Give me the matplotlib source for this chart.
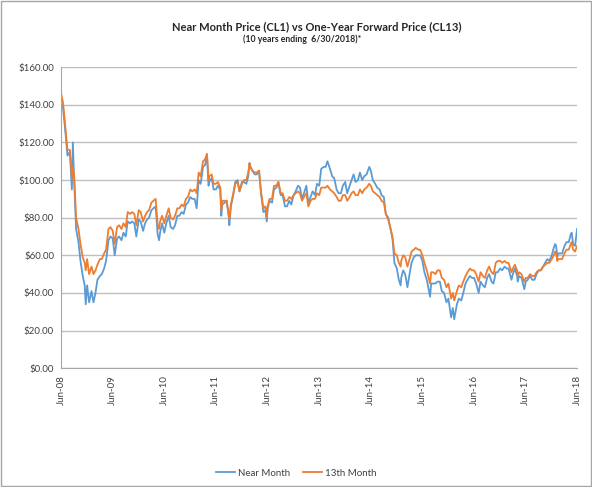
import numpy as np
import pandas as pd
import matplotlib
matplotlib.use("Agg")
import matplotlib.pyplot as plt
import matplotlib.dates as mdates
from matplotlib.ticker import FuncFormatter, MultipleLocator
from matplotlib.patches import Rectangle

plt.rcParams['font.family'] = ['Lato', 'DejaVu Sans']

# roughly semi-monthly readings (USD / bbl)
dates = [
    "2008-07-01", "2008-07-15", "2008-08-01", "2008-08-15", "2008-09-01", "2008-09-15", "2008-09-22",
    "2008-10-01", "2008-10-15", "2008-11-01", "2008-11-15", "2008-12-01", "2008-12-15", "2008-12-22",
    "2009-01-01", "2009-01-15", "2009-02-01", "2009-02-15", "2009-03-01", "2009-03-15", "2009-04-01",
    "2009-04-15", "2009-05-01", "2009-05-15", "2009-06-01", "2009-06-15", "2009-07-01", "2009-07-15",
    "2009-08-01", "2009-08-15", "2009-09-01", "2009-09-15", "2009-10-01", "2009-10-15", "2009-11-01",
    "2009-11-15", "2009-12-01", "2009-12-15", "2010-01-01", "2010-01-15", "2010-02-01", "2010-02-15",
    "2010-03-01", "2010-03-15", "2010-04-01", "2010-04-15", "2010-05-01", "2010-05-15", "2010-05-25",
    "2010-06-01", "2010-06-15", "2010-07-01", "2010-07-15", "2010-08-01", "2010-08-15", "2010-09-01",
    "2010-09-15", "2010-10-01", "2010-10-15", "2010-11-01", "2010-11-15", "2010-12-01", "2010-12-15",
    "2011-01-01", "2011-01-15", "2011-02-01", "2011-02-15", "2011-03-01", "2011-03-15", "2011-04-01",
    "2011-04-15", "2011-04-29", "2011-05-10", "2011-05-15", "2011-06-01", "2011-06-15", "2011-07-01",
    "2011-07-15", "2011-08-01", "2011-08-08", "2011-08-15", "2011-09-01", "2011-09-15", "2011-10-01",
    "2011-10-04", "2011-10-15", "2011-11-01", "2011-11-15", "2011-12-01", "2011-12-15", "2012-01-01",
    "2012-01-15", "2012-02-01", "2012-02-15", "2012-02-24", "2012-03-01", "2012-03-15", "2012-04-01",
    "2012-04-15", "2012-05-01", "2012-05-15", "2012-06-01", "2012-06-15", "2012-06-25", "2012-07-01",
    "2012-07-15", "2012-08-01", "2012-08-15", "2012-09-01", "2012-09-15", "2012-10-01", "2012-10-15",
    "2012-11-01", "2012-11-15", "2012-12-01", "2012-12-15", "2013-01-01", "2013-01-15", "2013-02-01",
    "2013-02-15", "2013-03-01", "2013-03-15", "2013-04-01", "2013-04-15", "2013-05-01", "2013-05-15",
    "2013-06-01", "2013-06-15", "2013-07-01", "2013-07-15", "2013-08-01", "2013-08-15", "2013-08-28",
    "2013-09-15", "2013-10-01", "2013-10-15", "2013-11-01", "2013-11-15", "2013-12-01", "2013-12-15",
    "2014-01-01", "2014-01-15", "2014-02-01", "2014-02-15", "2014-03-01", "2014-03-15", "2014-04-01",
    "2014-04-15", "2014-05-01", "2014-05-15", "2014-06-01", "2014-06-20", "2014-07-01", "2014-07-15",
    "2014-08-01", "2014-08-15", "2014-09-01", "2014-09-15", "2014-10-01", "2014-10-15", "2014-11-01",
    "2014-11-15", "2014-12-01", "2014-12-15", "2015-01-01", "2015-01-15", "2015-01-28", "2015-02-01",
    "2015-02-15", "2015-03-01", "2015-03-17", "2015-04-01", "2015-04-15", "2015-05-01", "2015-05-15",
    "2015-06-01", "2015-06-15", "2015-07-01", "2015-07-15", "2015-08-01", "2015-08-24", "2015-09-01",
    "2015-09-15", "2015-10-01", "2015-10-15", "2015-11-01", "2015-11-15", "2015-12-01", "2015-12-18",
    "2016-01-01", "2016-01-20", "2016-02-01", "2016-02-11", "2016-03-01", "2016-03-15", "2016-04-01",
    "2016-04-15", "2016-05-01", "2016-05-15", "2016-06-01", "2016-06-15", "2016-07-01", "2016-07-15",
    "2016-08-02", "2016-08-15", "2016-09-01", "2016-09-15", "2016-10-01", "2016-10-15", "2016-11-01",
    "2016-11-15", "2016-12-01", "2016-12-15", "2017-01-01", "2017-01-15", "2017-02-01", "2017-02-15",
    "2017-03-01", "2017-03-22", "2017-04-01", "2017-04-15", "2017-05-01", "2017-05-05", "2017-05-15",
    "2017-06-01", "2017-06-21", "2017-07-01", "2017-07-15", "2017-08-01", "2017-08-15", "2017-09-01",
    "2017-09-15", "2017-10-01", "2017-10-15", "2017-11-01", "2017-11-15", "2017-12-01", "2017-12-15",
    "2018-01-01", "2018-01-15", "2018-01-25", "2018-02-01", "2018-02-09", "2018-02-15", "2018-03-01",
    "2018-03-15", "2018-04-01", "2018-04-15", "2018-05-01", "2018-05-15", "2018-05-22", "2018-06-01",
    "2018-06-15", "2018-06-29",
]

near_month = [
    141, 138, 125, 113, 115, 95, 120,
    100, 74, 67, 57, 49, 44, 34,
    44, 35, 41, 35, 40, 47, 49,
    50, 53, 57, 68, 70, 69, 60,
    69, 70, 68, 72, 70, 78, 77,
    78, 77, 70, 79, 78, 73, 77,
    79, 80, 84, 85, 86, 71, 68,
    72, 77, 72, 77, 81, 75, 74,
    76, 81, 81, 83, 82, 87, 88,
    91, 90, 90, 85, 100, 98, 107,
    108, 113, 97, 99, 101, 95, 95,
    97, 95, 81, 87, 88, 89, 80,
    76, 86, 92, 99, 100, 94, 99,
    99, 98, 102, 109, 107, 105, 103,
    103, 105, 93, 83, 84, 78, 85,
    89, 88, 95, 96, 99, 92, 92,
    86, 86, 89, 87, 92, 94, 97,
    96, 90, 93, 97, 88, 91, 94,
    92, 98, 97, 106, 107, 107, 110,
    106, 102, 101, 95, 93, 93, 97,
    99, 93, 97, 100, 103, 99, 100,
    104, 100, 102, 103, 107, 105, 100,
    98, 96, 95, 92, 91, 82, 80,
    75, 69, 56, 53, 47, 44, 48,
    52, 50, 43, 50, 56, 59, 60,
    60, 60, 57, 51, 47, 38, 45,
    45, 45, 46, 46, 41, 40, 35,
    37, 27, 32, 26, 34, 37, 36,
    40, 45, 47, 49, 48, 48, 45,
    40, 46, 44, 43, 48, 50, 46,
    45, 51, 51, 53, 52, 54, 53,
    53, 47, 50, 53, 49, 46, 49,
    48, 42, 46, 47, 49, 47, 47,
    50, 52, 52, 54, 56, 58, 57,
    60, 64, 66, 65, 59, 61, 61,
    61, 65, 67, 67, 71, 72, 66,
    65, 74,
]

month_13 = [
    146, 141, 127, 116, 116, 101, 107,
    103, 80, 74, 66, 59, 56, 52,
    58, 50, 54, 50, 52, 55, 58,
    58, 61, 63, 74, 75, 73, 66,
    75, 76, 74, 77, 75, 83, 82,
    83, 82, 76, 84, 83, 78, 81,
    83, 84, 88, 89, 90, 76, 74,
    78, 81, 77, 81, 85, 80, 79,
    81, 85, 85, 87, 86, 90, 91,
    95, 94, 95, 93, 104, 102, 110,
    111, 114, 100, 102, 103, 98, 98,
    99, 96, 84, 89, 89, 89, 81,
    79, 87, 93, 98, 99, 94, 98,
    100, 100, 104, 109, 107, 105, 104,
    104, 105, 94, 85, 86, 80, 86,
    90, 90, 97, 97, 99, 93, 93,
    89, 89, 91, 90, 92, 93, 94,
    93, 89, 91, 93, 86, 89, 90,
    90, 93, 92, 96, 96, 96, 97,
    95, 94, 93, 91, 89, 89, 92,
    92, 89, 91, 93, 94, 92, 92,
    95, 93, 95, 96, 98, 97, 94,
    93, 92, 91, 89, 88, 82, 79,
    75, 70, 61, 60, 56, 54, 57,
    60, 59, 54, 58, 62, 63, 64,
    63, 63, 60, 56, 52, 45, 51,
    51, 50, 52, 52, 48, 47, 43,
    45, 37, 40, 36, 41, 44, 43,
    46, 49, 51, 53, 52, 52, 50,
    46, 51, 49, 48, 52, 54, 51,
    50, 56, 57, 57, 56, 57, 56,
    56, 51, 53, 55, 52, 49, 51,
    50, 46, 48, 48, 50, 49, 49,
    51, 52, 52, 54, 55, 56, 56,
    58, 60, 62, 61, 57, 58, 58,
    58, 61, 63, 63, 66, 67, 63,
    62, 65,
]

tick_years = list(range(2008, 2019))

x = pd.to_datetime(dates)

fig = plt.figure(figsize=(5.92, 4.87), dpi=100)
ax = fig.add_axes([0.103, 0.244, 0.872, 0.618])

ax.plot(x, near_month, color="#5B9BD5", lw=1.3, label="Near Month")
ax.plot(x, month_13, color="#ED7D31", lw=1.3, label="13th Month")

ax.set_ylim(0, 160)
ax.yaxis.set_major_locator(MultipleLocator(20))
ax.yaxis.set_major_formatter(FuncFormatter(lambda v, p: "${:,.2f}".format(v)))
ax.grid(axis="y", color="#BFBFBF", lw=1)
ax.set_axisbelow(True)

ticks = [pd.Timestamp(f"{y}-06-30") for y in tick_years]
ax.set_xlim(ticks[0], ticks[-1])
ax.set_xticks(ticks)
ax.set_xticklabels([f"Jun-{y % 100:02d}" for y in tick_years], rotation=90)

for s in ["top", "right"]:
    ax.spines[s].set_visible(False)
for s in ["left", "bottom"]:
    ax.spines[s].set_color("#A6A6A6")
ax.tick_params(axis="both", length=0, labelsize=7, colors="#404040", pad=5)

fig.text(0.535, 0.945, "Near Month Price (CL1) vs One-Year Forward Price (CL13)",
         ha="center", va="center", fontsize=8, fontweight="bold", color="#262626")
fig.text(0.51, 0.92, "(10 years ending  6/30/2018)*",
         ha="center", va="center", fontsize=6.3, fontweight="bold", color="#262626")

fig.legend(loc="center", bbox_to_anchor=(0.5, 0.028), ncol=2, frameon=False,
           fontsize=7, handlelength=2.0, handletextpad=0.3, columnspacing=1.3,
           labelcolor="#404040")

fig.patches.append(Rectangle((0.002, 0.002), 0.996, 0.996, transform=fig.transFigure,
                             fill=False, edgecolor="#A6A6A6", lw=1))

fig.savefig("out.png", dpi=100)
